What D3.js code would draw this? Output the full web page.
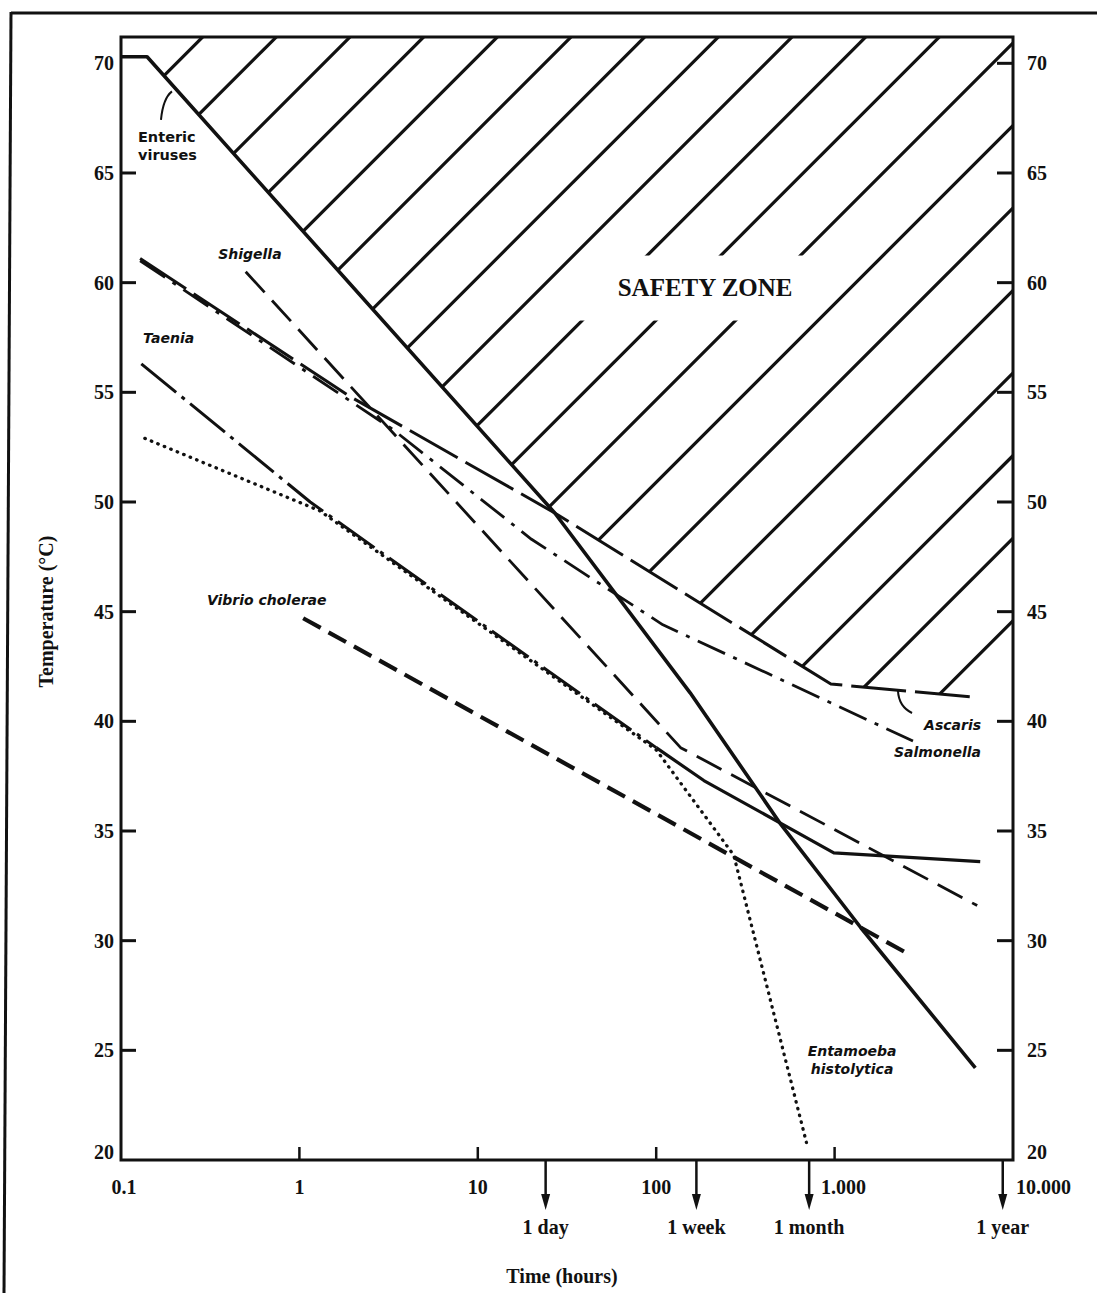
<!DOCTYPE html>
<html><head><meta charset="utf-8">
<script src="https://cdn.jsdelivr.net/npm/d3@7/dist/d3.min.js"></script>
<style>
body{margin:0;background:#fff;}
svg{display:block;}
</style></head><body>
<svg id="chart" width="1097" height="1293"></svg>
<script>
// ---------- data ----------
const xTickValues = [0.1, 1, 10, 100, 1000, 10000];
const xTickLabels = ["0.1", "1", "10", "100", "1.000", "10.000"];
const yTickValues = [20, 25, 30, 35, 40, 45, 50, 55, 60, 65, 70];
const timeMarkers = [24, 168, 720, 8760];
const timeMarkerLabels = ["1 day", "1 week", "1 month", "1 year"];

// [time (hours), temperature (°C)]
const entericViruses = [[0.1, 70.3], [0.14, 70.3], [27, 49.5], [155, 41.3], [500, 35.3], [1400, 30.6], [6150, 24.2]];
const ascaris = [[0.128, 61.1], [1.93, 54.8], [27, 49.5], [953, 41.7], [6150, 41.1]];
const salmonella = [[0.128, 61.0], [3.35, 53.3], [20, 48.3], [109, 44.4], [418, 42.2], [2750, 39.1]];
const shigella = [[0.5, 60.5], [137, 38.8], [6300, 31.6]];
const taenia = [[0.13, 56.3], [1.15, 50.0], [100, 38.8], [185, 37.3], [990, 34.0], [6550, 33.6]];
const entamoeba = [[0.136, 52.9], [1.3, 49.6], [100, 38.7], [272, 33.9], [695, 20.8]];
const vibrioCholerae = [[1.05, 44.7], [2580, 29.4]];

const yMax = 71.2;

// ---------- setup ----------
const svg = d3.select("#chart");
const plotLeft = 121, plotRight = 1013, plotTop = 37, plotBottom = 1160;
const x = d3.scaleLog().domain([0.1, 10000]).range([plotLeft, plotRight]);
const y = d3.scaleLinear().domain([20, yMax]).range([plotBottom, plotTop]);
const line = d3.line().x(d => x(d[0])).y(d => y(d[1]));
const ink = "#111";
const serif = "'Liberation Serif', 'Times New Roman', serif";
const sans = "'DejaVu Sans', sans-serif";

// outer frame of the figure
svg.append("line").attr("x1", 11).attr("y1", 13).attr("x2", 1097).attr("y2", 13)
  .attr("stroke", ink).attr("stroke-width", 3);
svg.append("line").attr("x1", 11).attr("y1", 12).attr("x2", 4).attr("y2", 1293)
  .attr("stroke", ink).attr("stroke-width", 3);

// ---------- safety zone hatching ----------
const ascEnd = ascaris[ascaris.length - 1];
const zone = [[0.1, yMax], [10000, yMax], [10000, ascEnd[1]]]
  .concat(ascaris.slice(2).reverse())
  .concat(entericViruses.slice(0, 3).reverse());
svg.append("clipPath").attr("id", "zoneClip")
  .append("path").attr("d", line(zone) + "Z");
const hatch = svg.append("g").attr("clip-path", "url(#zoneClip)");
const topStep = (plotRight - plotLeft - 8) / 12;
const rightStep = (y(ascEnd[1]) - plotTop) / 8;
const anchors = [];
for (let k = 1; k <= 11; k++) anchors.push([plotLeft + 8 + k * topStep, plotTop]);
for (let j = 0; j <= 7; j++) anchors.push([plotRight, plotTop + 6 + j * rightStep]);
anchors.forEach(a => {
  hatch.append("line")
    .attr("x1", a[0] + 1500).attr("y1", a[1] - 1500)
    .attr("x2", a[0] - 1500).attr("y2", a[1] + 1500)
    .attr("stroke", ink).attr("stroke-width", 3.2);
});

// SAFETY ZONE text with white knockout
const szText = svg.append("text")
  .attr("x", x(188)).attr("y", y(59.8))
  .attr("text-anchor", "middle").attr("dominant-baseline", "central")
  .attr("font-family", serif).attr("font-weight", "bold").attr("font-size", 25)
  .attr("fill", ink).text("SAFETY ZONE");
const bb = szText.node().getBBox();
svg.insert("rect", "text")
  .attr("x", bb.x - 40).attr("y", bb.y - 18)
  .attr("width", bb.width + 61).attr("height", bb.height + 38)
  .attr("fill", "#fff");

// ---------- series lines ----------
function drawSeries(data, width, dash, cap) {
  svg.append("path").attr("d", line(data))
    .attr("fill", "none").attr("stroke", ink)
    .attr("stroke-width", width)
    .attr("stroke-dasharray", dash || null)
    .attr("stroke-linecap", cap || "butt")
    .attr("stroke-linejoin", "round");
}
drawSeries(vibrioCholerae, 4.2, "20,9");
drawSeries(entamoeba, 3.3, "0.5,6.5", "round");
drawSeries(taenia.slice(0, 3), 3, "45,7,4,7");
drawSeries(taenia.slice(2), 3.2);
drawSeries(shigella, 2.8, "28,11");
drawSeries(salmonella, 2.8, "30,9,4,9");
drawSeries(ascaris, 3, "55,9");
drawSeries(entericViruses, 3.6);

// ---------- axes frame ----------
svg.append("rect")
  .attr("x", plotLeft).attr("y", plotTop)
  .attr("width", plotRight - plotLeft).attr("height", plotBottom - plotTop)
  .attr("fill", "none").attr("stroke", ink).attr("stroke-width", 3);

// y ticks (inward) and labels on both sides
const yg = svg.append("g");
yTickValues.forEach(v => {
  if (v > 20 && v < 70) {
    yg.append("line").attr("x1", plotLeft).attr("x2", plotLeft + 15)
      .attr("y1", y(v)).attr("y2", y(v)).attr("stroke", ink).attr("stroke-width", 3);
  }
  if (v > 20) {
    yg.append("line").attr("x1", plotRight - 16).attr("x2", plotRight)
      .attr("y1", y(v)).attr("y2", y(v)).attr("stroke", ink).attr("stroke-width", 3);
  }
  const yy = y(v) - (v === 20 ? 8 : 0);
  yg.append("text").attr("x", plotLeft - 7).attr("y", yy)
    .attr("text-anchor", "end").attr("dominant-baseline", "central")
    .attr("font-family", serif).attr("font-weight", "bold").attr("font-size", 20)
    .attr("fill", ink).text(v);
  yg.append("text").attr("x", plotRight + 14).attr("y", yy)
    .attr("text-anchor", "start").attr("dominant-baseline", "central")
    .attr("font-family", serif).attr("font-weight", "bold").attr("font-size", 20)
    .attr("fill", ink).text(v);
});

// x ticks and labels
const xg = svg.append("g");
xTickValues.forEach((v, i) => {
  if (v > 0.1 && v < 10000) {
    xg.append("line").attr("x1", x(v)).attr("x2", x(v))
      .attr("y1", plotBottom).attr("y2", plotBottom - 13)
      .attr("stroke", ink).attr("stroke-width", 2.5);
  }
  let xx = x(v), anchor = "middle";
  if (v === 0.1) xx += 3;
  if (v === 1000) xx += 9;
  if (v === 10000) { xx += 3; anchor = "start"; }
  xg.append("text").attr("x", xx).attr("y", plotBottom + 27)
    .attr("text-anchor", anchor).attr("dominant-baseline", "central")
    .attr("font-family", serif).attr("font-weight", "bold").attr("font-size", 20)
    .attr("fill", ink).text(xTickLabels[i]);
});

// time marker arrows
timeMarkers.forEach((v, i) => {
  const xx = x(v);
  xg.append("line").attr("x1", xx).attr("x2", xx)
    .attr("y1", plotBottom).attr("y2", plotBottom + 38)
    .attr("stroke", ink).attr("stroke-width", 2.5);
  xg.append("path")
    .attr("d", `M${xx - 4.5},${plotBottom + 34}L${xx + 4.5},${plotBottom + 34}L${xx},${plotBottom + 50}Z`)
    .attr("fill", ink);
  xg.append("text").attr("x", xx).attr("y", plotBottom + 67)
    .attr("text-anchor", "middle").attr("dominant-baseline", "central")
    .attr("font-family", serif).attr("font-weight", "bold").attr("font-size", 20)
    .attr("fill", ink).text(timeMarkerLabels[i]);
});

// axis titles
svg.append("text").attr("transform", `translate(46,${(plotTop + plotBottom) / 2 + 13}) rotate(-90)`)
  .attr("text-anchor", "middle").attr("dominant-baseline", "central")
  .attr("font-family", serif).attr("font-weight", "bold").attr("font-size", 20)
  .attr("fill", ink).text("Temperature (°C)");
svg.append("text").attr("x", 562).attr("y", 1276)
  .attr("text-anchor", "middle").attr("dominant-baseline", "central")
  .attr("font-family", serif).attr("font-weight", "bold").attr("font-size", 20)
  .attr("fill", ink).text("Time (hours)");

// ---------- series labels ----------
function label(t, T, txt, anchor, italic, size) {
  return svg.append("text").attr("x", x(t)).attr("y", y(T))
    .attr("text-anchor", anchor).attr("dominant-baseline", "central")
    .attr("font-family", sans).attr("font-weight", "bold")
    .attr("font-style", italic ? "oblique" : "normal")
    .attr("font-size", size || 14).attr("fill", ink).text(txt);
}
label(0.1245, 66.64, "Enteric", "start", false, 14.5);
label(0.1245, 65.82, "viruses", "start", false, 14.5);
label(0.528, 61.31, "Shigella", "middle", true);
label(0.133, 57.48, "Taenia", "start", true);
label(0.303, 45.54, "Vibrio cholerae", "start", true);
label(6620, 39.84, "Ascaris", "end", true);
label(6620, 38.61, "Salmonella", "end", true);
label(1253, 24.99, "Entamoeba", "middle", true);
label(1253, 24.17, "histolytica", "middle", true);

// pointer leaders
function pointer(p0, c, p1) {
  svg.append("path")
    .attr("d", `M${x(p0[0])},${y(p0[1])}Q${x(c[0])},${y(c[1])} ${x(p1[0])},${y(p1[1])}`)
    .attr("fill", "none").attr("stroke", ink).attr("stroke-width", 2);
}
pointer([0.1675, 67.42], [0.172, 68.4], [0.193, 68.72]);
pointer([2265, 41.4], [2290, 40.67], [2717, 40.38]);
</script>
</body></html>
